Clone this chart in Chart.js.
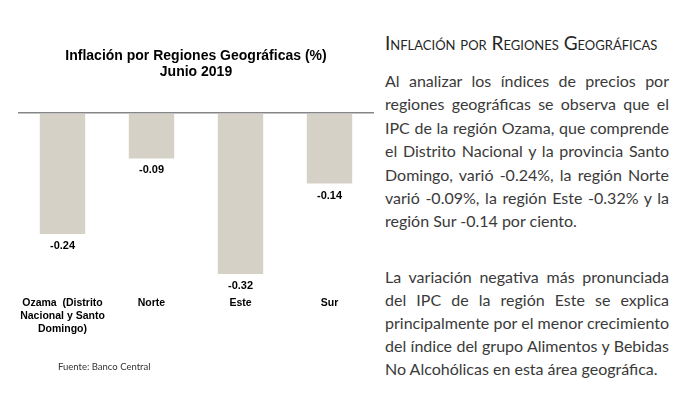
<!DOCTYPE html>
<html lang="es">
<head>
<meta charset="utf-8">
<script src="https://cdn.jsdelivr.net/npm/chart.js@4"></script>
<style>
  html, body { margin: 0; padding: 0; background: #fff; }
  body { width: 684px; height: 415px; position: relative; overflow: hidden; }
  #chartBox { position: absolute; left: 0; top: 0; width: 374px; height: 415px; }
  #fuente { position: absolute; left: 58px; top: 361px; font: 9.5px Lato, sans-serif; color: #333; }
  #texto { position: absolute; left: 385px; top: 0; width: 284px; font-family: Lato, sans-serif; color: #3a3a3a; }
  #texto h2 { position: absolute; left: 0; top: 32px; margin: 0; font-size: 19px; line-height: 22px;
              font-weight: normal; font-variant: small-caps; color: #262626; white-space: nowrap; }
  .par { position: absolute; left: 0; width: 284px; font-size: 16px; line-height: 23.4px; }
  .par div { white-space: nowrap; text-align: justify; text-align-last: justify; }
  .par div.last { text-align-last: left; }
</style>
</head>
<body>
<div id="chartBox"><canvas id="inflacionChart"></canvas></div>
<div id="fuente">Fuente: Banco Central</div>
<div id="texto">
  <h2>Inflación por Regiones Geográficas</h2>
  <div class="par" style="top:69px">
    <div>Al analizar los índices de precios por</div>
    <div>regiones geográficas se observa que el</div>
    <div>IPC de la región Ozama, que comprende</div>
    <div>el Distrito Nacional y la provincia Santo</div>
    <div>Domingo, varió -0.24%, la región Norte</div>
    <div>varió -0.09%, la región Este -0.32% y la</div>
    <div class="last">región Sur -0.14 por ciento.</div>
  </div>
  <div class="par" style="top:265px; line-height:23px">
    <div>La variación negativa más pronunciada</div>
    <div>del IPC de la región Este se explica</div>
    <div>principalmente por el menor crecimiento</div>
    <div>del índice del grupo Alimentos y Bebidas</div>
    <div class="last">No Alcohólicas en esta área geográfica.</div>
  </div>
</div>
<script>
const regiones = [['Ozama  (Distrito', 'Nacional y Santo', 'Domingo)'], 'Norte', 'Este', 'Sur'];
const inflacion = [-0.24, -0.09, -0.32, -0.14];
const titulo = ['Inflación por Regiones Geográficas (%)', 'Junio 2019'];

// etiquetas de valor debajo de cada barra
const etiquetasValor = {
    id: 'etiquetasValor',
    afterDatasetsDraw(chart) {
        const ctx = chart.ctx;
        const meta = chart.getDatasetMeta(0);
        ctx.save();
        ctx.font = 'bold 11px "Liberation Sans", Arial, sans-serif';
        ctx.fillStyle = '#000';
        ctx.textAlign = 'center';
        ctx.textBaseline = 'middle';
        meta.data.forEach((bar, i) => {
            ctx.fillText(inflacion[i].toFixed(2), bar.x, bar.y + 12);
        });
        ctx.restore();
    }
};

const ctx = document.getElementById('inflacionChart').getContext('2d');
new Chart(ctx, {
    type: 'bar',
    data: {
        labels: regiones,
        datasets: [{
            data: inflacion,
            backgroundColor: '#d6d1c7',
            borderWidth: 0,
            categoryPercentage: 1,
            barPercentage: 0.51
        }]
    },
    options: {
        responsive: true,
        maintainAspectRatio: false,
        animation: false,
        layout: { padding: { left: 18, right: 0, top: 0, bottom: 80 } },
        plugins: {
            legend: { display: false },
            tooltip: { enabled: false },
            title: {
                display: true,
                text: titulo,
                color: '#000',
                font: { family: '"Liberation Sans", Arial, sans-serif', size: 14, weight: 'bold', lineHeight: 1.15 },
                padding: { top: 48, bottom: 33 }
            }
        },
        scales: {
            x: {
                grid: { display: false },
                border: { display: false },
                ticks: {
                    color: '#000',
                    font: { family: '"Liberation Sans", Arial, sans-serif', size: 10.5, weight: 'bold', lineHeight: 1.2 },
                    padding: 0,
                    maxRotation: 0,
                    autoSkip: false
                }
            },
            y: {
                min: -0.35,
                max: 0,
                ticks: { display: false, stepSize: 0.05 },
                border: { display: false },
                grid: {
                    drawTicks: false,
                    lineWidth: 1.5,
                    color: c => (c.tick && c.tick.value === 0 ? '#868686' : 'rgba(0,0,0,0)')
                }
            }
        }
    },
    plugins: [etiquetasValor]
});
</script>
</body>
</html>
